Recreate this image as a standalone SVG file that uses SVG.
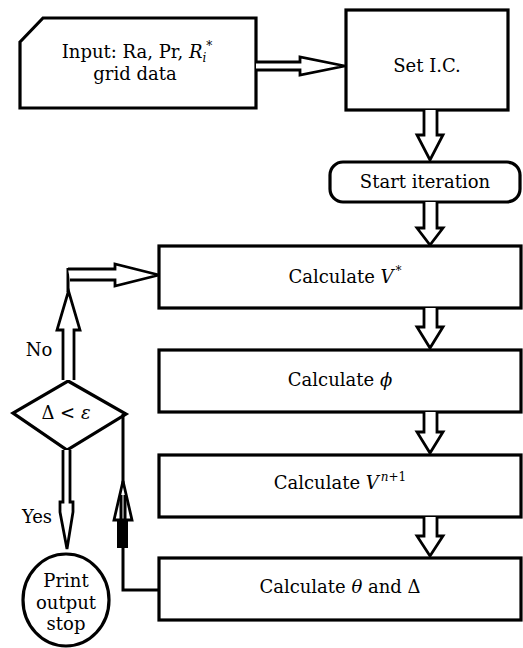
<svg xmlns="http://www.w3.org/2000/svg" width="523" height="648" viewBox="0 0 523 648">
<style>
.box{fill:#fff;stroke:#000;stroke-width:3.2}
.arr{fill:#fff;stroke:#000;stroke-width:2.8;stroke-linejoin:miter}
.ln{fill:none;stroke:#000;stroke-width:3}
text{font-family:"DejaVu Serif","Liberation Serif",serif;font-size:18px;fill:#000;text-anchor:middle}
.it{font-style:italic}
.sm{font-size:12px}
</style>
<rect width="523" height="648" fill="#fff"/>
<g id="input">
<path class="box" d="M20,42 L43,18 L256,18 L256,108 L20,108 Z"/>
<text x="137" y="58">Input: Ra, Pr, <tspan class="it">R</tspan><tspan class="it sm" dy="4">i</tspan><tspan class="sm" dx="0" dy="-12">*</tspan></text>
<text x="135" y="80">grid data</text>
</g>
<g id="setic">
<rect class="box" x="346" y="10" width="162" height="100"/>
<text x="427" y="72">Set I.C.</text>
</g>
<g id="start">
<rect class="box" x="330" y="162" width="190" height="40" rx="13" ry="13"/>
<text x="425" y="188">Start iteration</text>
</g>
<g id="calcV">
<rect class="box" x="159" y="246" width="362" height="62"/>
<text x="345" y="283">Calculate <tspan class="it">V</tspan><tspan class="sm" dx="2" dy="-8">*</tspan></text>
</g>
<g id="calcphi">
<rect class="box" x="159" y="350" width="362" height="62"/>
<text x="340" y="386">Calculate <tspan class="it">ϕ</tspan></text>
</g>
<g id="calcVn">
<rect class="box" x="159" y="455" width="362" height="62"/>
<text x="340" y="489">Calculate <tspan class="it">V</tspan><tspan class="sm" dx="2" dy="-8"><tspan class="it">n</tspan>+1</tspan></text>
</g>
<g id="calctheta">
<rect class="box" x="159" y="558" width="362" height="62"/>
<text x="340" y="593">Calculate <tspan class="it">θ</tspan> and Δ</text>
</g>
<g id="decision">
<path class="box" d="M68,381 L126,414 L67,450 L13,413 Z"/>
<text x="66" y="419">Δ &lt; <tspan class="it">ε</tspan></text>
</g>
<g id="stop">
<ellipse class="box" cx="66" cy="600" rx="43" ry="46"/>
<text x="66" y="587">Print</text>
<text x="66" y="609">output</text>
<text x="66" y="630">stop</text>
</g>
<g id="connectors">
<path class="arr" d="M256,62 L300,62 L300,57 L345,66 L300,75 L300,70 L256,70"/>
<path class="arr" d="M424,110 L424,135 L417,135 L430,160 L443,135 L437,135 L437,110"/>
<path class="arr" d="M424,202 L424,228 L417,228 L430,245 L443,228 L437,228 L437,202"/>
<path class="arr" d="M424,308 L424,327 L417,327 L430,348 L443,327 L437,327 L437,308"/>
<path class="arr" d="M424,412 L424,432 L417,432 L430,453 L443,432 L437,432 L437,412"/>
<path class="arr" d="M424,517 L424,536 L417,536 L430,556 L443,536 L437,536 L437,517"/>
<path class="arr" d="M63,380 L63,330 L57,330 L68.5,291 L80,330 L74,330 L74,380"/>
<path class="ln" d="M68,292 L68,268"/>
<path class="arr" d="M68,269 L115,269 L115,264 L159,275 L115,286 L115,280 L70,280"/>
<path class="arr" d="M63,450 L63,502 L60,502 L60,512 L67,549 L73,512 L73,502 L70,502 L70,450"/>
<path class="ln" d="M159,590 L123,590 L123,414"/>
<rect x="117" y="514" width="11" height="34" fill="#000"/>
<path class="arr" d="M114,520 L123,481 L132,520 Z"/>
<path class="ln" d="M121,520 L121,495 M125,520 L125,495" stroke-width="1.5"/>
<text x="39" y="356">No</text>
<text x="37" y="523">Yes</text>
</g>
</svg>
